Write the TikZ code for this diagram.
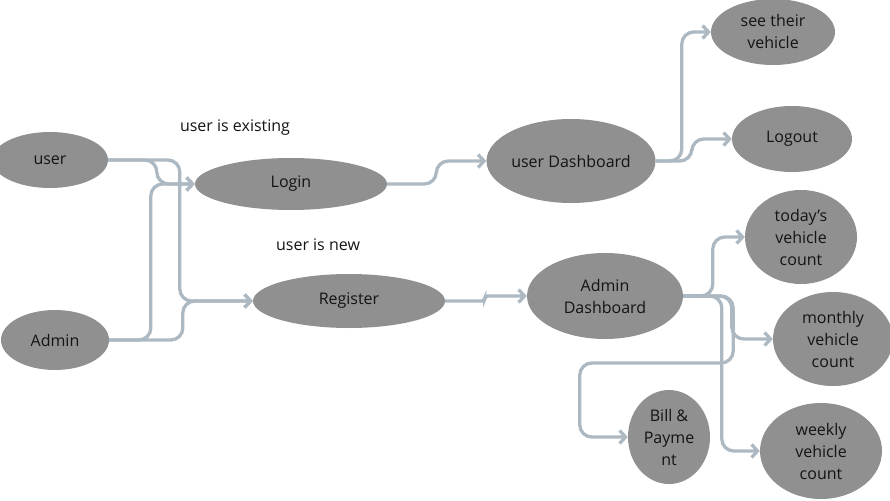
\documentclass[tikz,border=0pt]{standalone}
\usepackage{fontspec}
\setmainfont{Open Sans}
\usepackage{xcolor}
\definecolor{flowNode}{HTML}{909090}
\definecolor{flowLine}{HTML}{ADB9C2}
\definecolor{flowText}{HTML}{141414}
\usetikzlibrary{shapes.geometric,arrows.meta}

\tikzset{
  bubble/.style={ellipse, fill=flowNode, draw=none, inner sep=0pt, align=center,
    text=flowText, font=\fontsize{16}{22}\selectfont},
  link/.style={draw=flowLine, line width=3.3pt, rounded corners=12pt,
    -{Straight Barb[length=6pt,width=13pt]}},
  note/.style={text=flowText, font=\fontsize{16}{18}\selectfont}
}

\begin{document}
\begin{tikzpicture}[x=1pt,y=-1pt]
  \useasboundingbox (0,0) rectangle (890,500);
  \node[bubble, minimum width=116pt, minimum height=56pt] (user) at (50,160) {user};
  \node[bubble, minimum width=108pt, minimum height=60pt] (admin) at (55,340) {Admin};
  \node[bubble, minimum width=192pt, minimum height=52pt] (login) at (291,184) {Login};
  \node[bubble, minimum width=192pt, minimum height=54pt] (register) at (349,301) {Register};
  \node[bubble, minimum width=162pt, minimum height=84pt] (udash) at (571,161) {user Dashboard};
  \node[bubble, minimum width=156pt, minimum height=86pt] (adash) at (605,296) {Admin\\Dashboard};
  \node[bubble, minimum width=124pt, minimum height=66pt] (see) at (773,32) {see their\\vehicle};
  \node[bubble, minimum width=120pt, minimum height=66pt] (logout) at (792,139) {Logout};
  \node[bubble, minimum width=112pt, minimum height=94pt] (today) at (801,237) {today’s\\vehicle\\count};
  \node[bubble, minimum width=120pt, minimum height=94pt] (monthly) at (833,339) {monthly\\vehicle\\count};
  \node[bubble, minimum width=82pt, minimum height=94pt] (bill) at (669,437) {Bill \&\\Payme\\nt};
  \node[bubble, minimum width=122pt, minimum height=96pt] (weekly) at (821,451) {weekly\\vehicle\\count};

  \node[note] (existing) at (235,128) {user is existing};
  \node[note] (new) at (318,245) {user is new};

  % left side
  \draw[link] (user.east) -| ([xshift=-38pt]login.west) -- (login.west);
  \draw[link] (admin.east) -| ([xshift=-44pt]login.west) -- (login.west);
  \draw[link] (user.east) -| ([xshift=-73pt]register.west) -- (register.west);
  \draw[link] (admin.east) -| ([xshift=-70pt]register.west) -- (register.west);

  % to the dashboards
  \draw[link] (login.east) -| ([xshift=-50pt]udash.west) -- (udash.west);
  \draw[link, rounded corners=3pt] (register.east) -| ([xshift=-42pt]adash.west) -- (adash.west);

  % user dashboard
  \draw[link] (udash.east) -| ([xshift=-29pt]see.west) -- (see.west);
  \draw[link] (udash.east) -| ([xshift=-40pt]logout.west) -- (logout.west);

  % admin dashboard
  \draw[link] (adash.east) -| ([xshift=-32pt]today.west) -- (today.west);
  \draw[link] (adash.east) -| ([xshift=-41pt]monthly.west) -- (monthly.west);
  \draw[link] (adash.east) -| ([xshift=-38pt]weekly.west) -- (weekly.west);
  \draw[link] (adash.east) -| ++(50,67) -| ([xshift=-48pt]bill.west) -- (bill.west);
\end{tikzpicture}
\end{document}
